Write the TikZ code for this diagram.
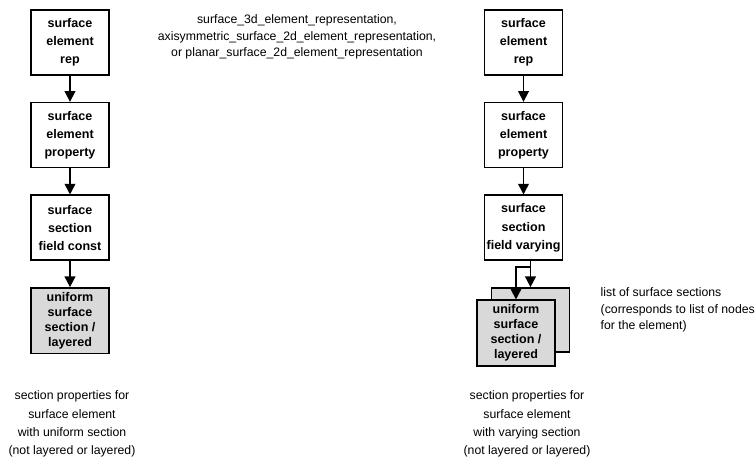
\documentclass[tikz,border=0pt]{standalone}
\usepackage{fontspec}
\setmainfont{Liberation Sans}
\usetikzlibrary{positioning,arrows.meta,calc}

\begin{document}
\begin{tikzpicture}[
x=0.75pt, y=-0.75pt,
node distance=19.5pt,
box/.style={draw, line width=1.25pt, minimum width=58.5pt, minimum height=48.75pt, inner sep=1pt, align=center, font=\fontsize{9.4}{13.6}\selectfont\bfseries, fill=white},
sect/.style={box, fill=black!15, minimum height=49pt, font=\fontsize{9.4}{11.2}\selectfont\bfseries},
arrow/.style={-{Triangle[length=8pt,width=8pt]}, line width=1.2pt},
note/.style={align=center, font=\fontsize{9.2}{13.7}\selectfont},
notetop/.style={note, font=\fontsize{9.2}{12.6}\selectfont}
]
\useasboundingbox (0,0) rectangle (756,459);
% left column: uniform section
\node[box] (lrep) at (70,42.5) {surface\\element\\rep};
\node[box, below=of lrep] (lprop) {surface\\element\\property};
\node[box, below=of lprop] (lconst) {surface\\section\\field const};
\node[sect, below=of lconst] (luni) {uniform\\surface\\section /\\layered};
\draw[arrow] (lrep) -- (lprop);
\draw[arrow] (lprop) -- (lconst);
\draw[arrow] (lconst) -- (luni);
% right column: varying section
\node[box] (rrep) at (523.5,42.5) {surface\\element\\rep};
\node[box, below=of rrep] (rprop) {surface\\element\\property};
\node[box, below=of rprop] (rvary) {surface\\section\\field varying};
\node[sect, below=of rvary, xshift=5.25pt, minimum height=48pt] (rback) {};
\node[sect] (runi) at ([xshift=-10.9pt,yshift=-9.75pt]rback.center) {uniform\\surface\\section /\\layered};
\draw[arrow] (rrep) -- (rprop);
\draw[arrow] (rprop) -- (rvary);
\coordinate (split) at ($(rvary.south -| rback.north)+(0,6)$);
\draw[arrow] (rvary.south -| rback.north) -- (rback.north);
\draw[arrow] (split) -| (runi.north);
% texts
\node[notetop] (top) at (297,37) {surface\_3d\_element\_representation,\\axisymmetric\_surface\_2d\_element\_representation,\\or planar\_surface\_2d\_element\_representation};
\node[notetop, align=left, anchor=west] (listnote) at (596,310) {list of surface sections\\(corresponds to list of nodes\\for the element)};
\node[note] (lnote) at (72,424) {section properties for\\surface element\\with uniform section\\(not layered or layered)};
\node[note] (rnote) at (527,424) {section properties for\\surface element\\with varying section\\(not layered or layered)};
\end{tikzpicture}
\end{document}
